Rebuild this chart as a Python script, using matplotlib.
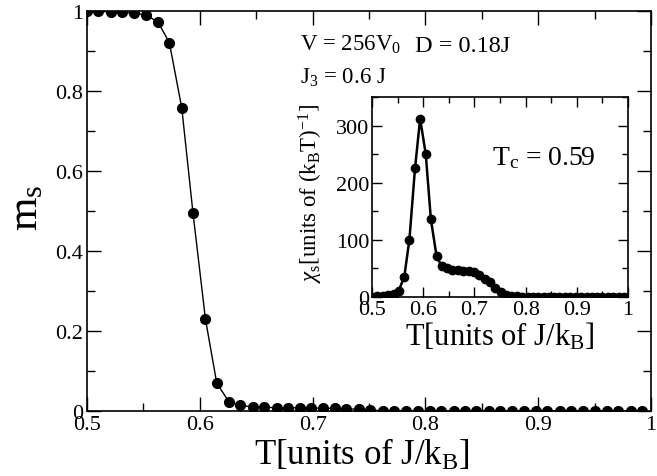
import matplotlib
matplotlib.use('Agg')
import matplotlib.pyplot as plt
from matplotlib.ticker import MultipleLocator

plt.rcParams['font.family'] = ['Liberation Serif', 'DejaVu Serif']
plt.rcParams['mathtext.fontset'] = 'custom'
plt.rcParams['mathtext.rm'] = 'Liberation Serif'
plt.rcParams['mathtext.it'] = 'Liberation Serif:italic'

# temperatures
T = [0.500, 0.510, 0.521, 0.531, 0.542, 0.552, 0.563, 0.573, 0.584, 0.594,
     0.605, 0.615, 0.626, 0.636, 0.647, 0.657, 0.668, 0.678, 0.689, 0.699,
     0.709, 0.720, 0.730, 0.741, 0.751, 0.762, 0.772, 0.783, 0.793, 0.804,
     0.814, 0.825, 0.835, 0.845, 0.856, 0.866, 0.877, 0.887, 0.898, 0.908,
     0.919, 0.929, 0.940, 0.950, 0.961, 0.971, 0.982, 0.992]
# staggered magnetisation m_s
m_s = [0.999, 0.999, 0.998, 0.997, 0.994, 0.991, 0.972, 0.921, 0.758, 0.494,
       0.230, 0.070, 0.022, 0.014, 0.010, 0.009, 0.0085, 0.008, 0.0078, 0.0075,
       0.007, 0.0065, 0.006, 0.004, 0.002, 0.001, 0.001, 0.0008, 0.0007, 0.0006,
       0.0006, 0.0005, 0.0005, 0.0005, 0.0005, 0.0005, 0.0005, 0.0005, 0.0005, 0.0005,
       0.0005, 0.0005, 0.0005, 0.0005, 0.0005, 0.0005, 0.0005, 0.0005]
# susceptibility chi_s (inset)
chi_s = [0.5, 1, 2, 3.5, 6, 11, 35, 100, 225, 312,
         250, 136, 72, 54, 50, 48, 47, 46, 45, 43,
         38, 32, 27, 15, 8, 3.5, 1.5, 1, 0.5, 0.5,
         0.5, 0.5, 0.5, 0.5, 0.5, 0.5, 0.5, 0.5, 0.5, 0.5,
         0.5, 0.5, 0.5, 0.5, 0.5, 0.5, 0.5, 0.5]

x_ticks = [0.5, 0.6, 0.7, 0.8, 0.9, 1.0]
x_labels = ['0.5', '0.6', '0.7', '0.8', '0.9', '1']
y_ticks = [0, 0.2, 0.4, 0.6, 0.8, 1.0]
y_labels = ['0', '0.2', '0.4', '0.6', '0.8', '1']

fig = plt.figure(figsize=(6.57, 4.77), dpi=100)
ax = fig.add_axes([87/657, 1-412/477, 564/657, 400/477])
ax.plot(T, m_s, 'k-', lw=1.0, marker='o', ms=7, mfc='k', mec='k')
ax.set_xlim(0.5, 1.0)
ax.set_ylim(0, 1.0)
ax.set_xticks(x_ticks)
ax.set_xticklabels(x_labels)
ax.set_yticks(y_ticks)
ax.set_yticklabels(y_labels)
ax.xaxis.set_minor_locator(MultipleLocator(0.05))
ax.yaxis.set_minor_locator(MultipleLocator(0.1))
ax.tick_params(which='both', direction='in', top=True, right=True, labelsize=16, width=1)
ax.tick_params(which='major', length=10, pad=3)
ax.tick_params(which='minor', length=6)
for s in ax.spines.values():
    s.set_linewidth(1.2)
ax.set_xlabel('T[units of J/k$_\\mathrm{B}$]', fontsize=25)
ax.xaxis.set_label_coords(0.487, -0.065)
ax.set_ylabel('m$_\\mathrm{s}$', fontsize=31)
ax.yaxis.set_label_coords(-0.072, 0.51)

ax.text(0.689, 0.9175, 'V = 256V$_\\mathrm{0}$', fontsize=16.5, ha='left', va='center')
ax.text(0.689, 0.835, 'J$_\\mathrm{3}$ = 0.6 J', fontsize=16.5, ha='left', va='center')
ax.text(0.791, 0.9125, 'D = 0.18J', fontsize=17.5, ha='left', va='center')

# inset
ins = fig.add_axes([372/657, 1-298/477, 256/657, 200/477])
ins.plot(T, chi_s, 'k-', lw=1.8, marker='o', ms=6, mfc='k', mec='k')
ins.set_xlim(0.5, 1.0)
ins.set_ylim(0, 350)
ins.set_xticks(x_ticks)
ins.set_xticklabels(x_labels)
ins.set_yticks([0, 100, 200, 300])
ins.xaxis.set_minor_locator(MultipleLocator(0.05))
ins.yaxis.set_minor_locator(MultipleLocator(50))
ins.tick_params(which='both', direction='in', top=True, right=True, labelsize=16, width=1)
ins.tick_params(which='major', length=7, pad=2)
ins.tick_params(which='minor', length=4)
for s in ins.spines.values():
    s.set_linewidth(1.2)
ins.set_xlabel('T[units of J/k$_\\mathrm{B}$]', fontsize=22)
ins.xaxis.set_label_coords(0.5, -0.115)
ins.set_ylabel('$\\chi_\\mathrm{s}$[units of (k$_\\mathrm{B}$T)$^{\\mathrm{-1}}$]', fontsize=16.5)
ins.yaxis.set_label_coords(-0.185, 0.52)
ins.text(0.734, 245, 'T$_\\mathrm{c}$ = 0.59', fontsize=20, ha='left', va='center')

fig.savefig('out.png', dpi=100)
